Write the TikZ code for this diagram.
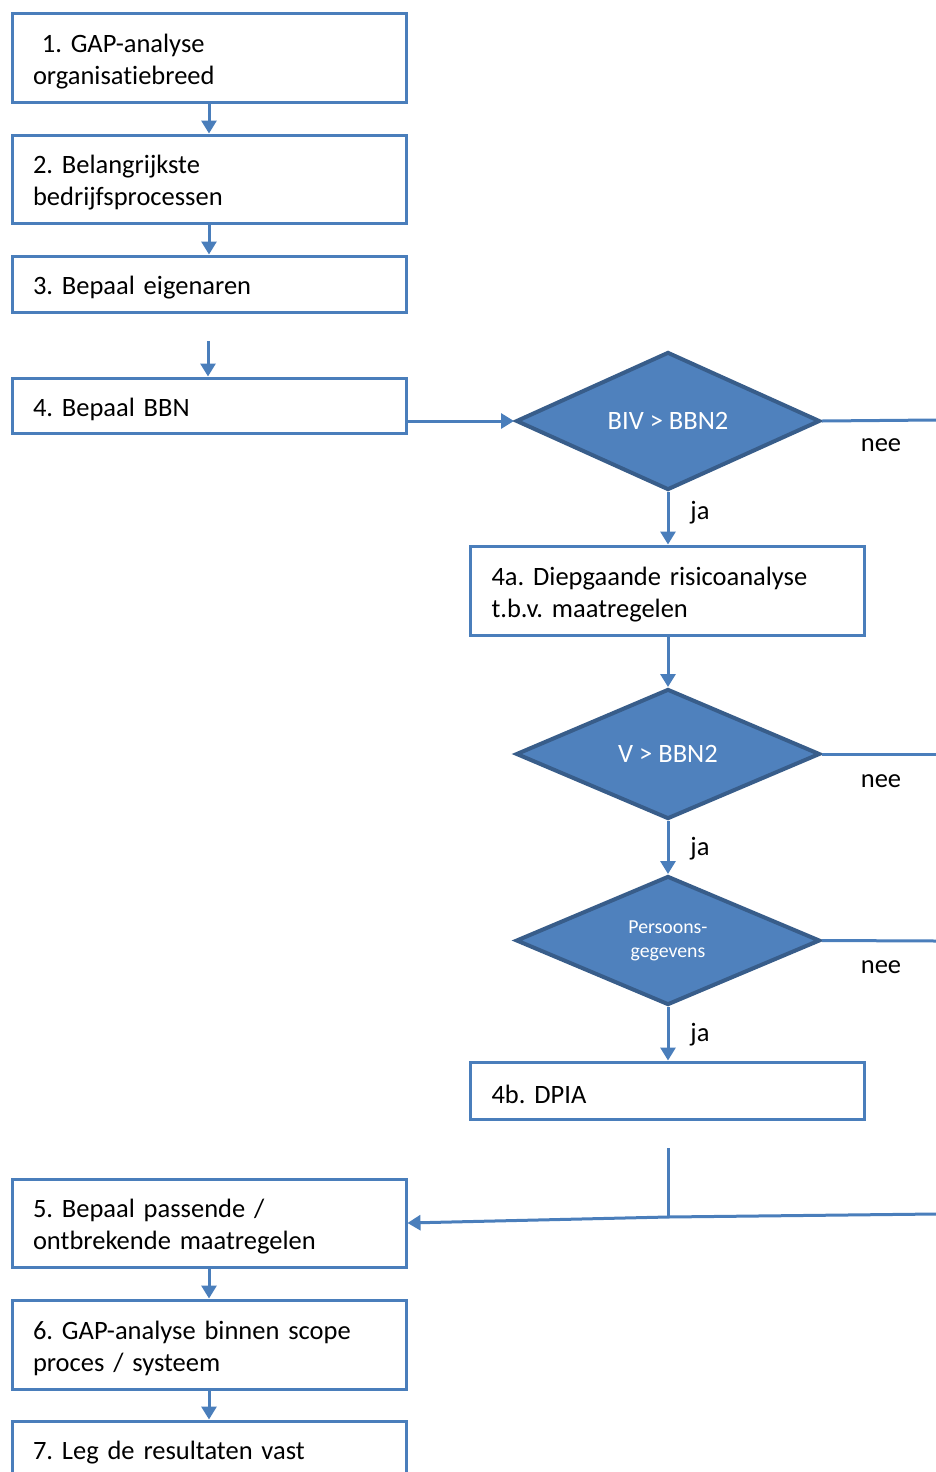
\documentclass[tikz,border=0pt]{standalone}
\usepackage{fontspec}
\setmainfont{Carlito}[Ligatures=CommonOff]
\usepackage{tikz}
\usetikzlibrary{shapes.geometric,arrows.meta}
\definecolor{boxblue}{HTML}{4A7EBB}
\definecolor{fillblue}{HTML}{4F81BD}
\definecolor{darkblue}{HTML}{385D8A}
\frenchspacing

\begin{document}
\begin{tikzpicture}[x=1pt,y=-1pt,
    box/.style={draw=boxblue, line width=3pt, rectangle, minimum width=394pt,
        inner xsep=21pt, text width=352pt, align=left,
        execute at begin node={\rule{0pt}{26pt}},
        font=\fontsize{26.5}{32}\selectfont},
    choice/.style={diamond, draw=darkblue, fill=fillblue, line width=4pt,
        minimum width=304pt, minimum height=138pt, inner sep=0pt, align=center,
        text=white, font=\fontsize{26.5}{32}\selectfont},
    lbl/.style={font=\fontsize{26.5}{32}\selectfont, inner sep=0pt},
    arr/.style={draw=boxblue, line width=3pt, -{Triangle[length=13pt,width=15pt]}},
    ln/.style={draw=boxblue, line width=3pt}]
                \useasboundingbox (0,0) rectangle (936,1472);
                % left column
                \node [box, minimum height=88pt] (b1) at (209,58) {~1. GAP-analyse\\organisatiebreed};
                \node [box, minimum height=88pt] (b2) at (209,179) {2. Belangrijkste\\bedrijfsprocessen};
                \node [box, minimum height=56pt] (b3) at (209,284) {3. Bepaal eigenaren};
                \node [box, minimum height=55pt] (b4) at (209,405.5) {4. Bepaal BBN};
                \node [box, minimum height=88pt] (b5) at (209,1223) {5. Bepaal passende /\\ontbrekende maatregelen};
                \node [box, minimum height=89pt] (b6) at (209,1344.5) {6. GAP-analyse binnen scope\\proces / systeem};
                \node [box, minimum height=56pt] (b7) at (209,1449) {7. Leg de resultaten vast};
                % right column
                \node [choice] (d1) at (668,421) {BIV > BBN2};
                \node [box, minimum height=89pt] (b4a) at (667.5,590.5) {4a. Diepgaande risicoanalyse\\t.b.v. maatregelen};
                \node [choice, minimum height=130pt] (d2) at (668,754) {V > BBN2};
                \node [choice, minimum height=129pt, font=\fontsize{19.8}{24}\selectfont] (d3) at (668,940.5) {Persoons-\\gegevens};
                \node [box, minimum height=57pt] (b4b) at (667.5,1090.5) {4b. DPIA};
                % labels
                \node [lbl] (ja1) at (700,513) {ja};
                \node [lbl] (ja2) at (700,849) {ja};
                \node [lbl] (ja3) at (700,1035) {ja};
                \node [lbl] (nee1) at (881,445) {nee};
                \node [lbl] (nee2) at (881,781) {nee};
                \node [lbl] (nee3) at (881,967) {nee};
                % free ends
                \coordinate (s4) at (208,341);
                \coordinate (e1) at (936,420);
                \coordinate (e2) at (936,754);
                \coordinate (e3) at (936,941);
                \coordinate (s5) at (668,1148);
                \coordinate (m5) at (668,1217);
                \coordinate (r5) at (936,1214);
                % connectors
                \draw [arr] (b1) -- (b2);
                \draw [arr] (b2) -- (b3);
                \draw [arr] (s4) -- (s4 |- b4.north);
                \draw [arr] (b4.east |- d1.west) -- (d1.west);
                \draw [arr] (d1.south) -- (d1.south |- b4a.north);
                \draw [arr] (d1.south |- b4a.south) -- (d2.north);
                \draw [arr] (d2.south) -- (d3.north);
                \draw [arr] (d3.south) -- (d3.south |- b4b.north);
                \draw [ln] (d1.east) -- (e1);
                \draw [ln] (d2.east) -- (e2);
                \draw [ln] (d3.east) -- (e3);
                \draw [ln] (s5) -- (m5);
                \draw [arr] (r5) -- (m5) -- (b5.east);
                \draw [arr] (b5) -- (b6);
                \draw [arr] (b6) -- (b7);
            \end{tikzpicture}
\end{document}
